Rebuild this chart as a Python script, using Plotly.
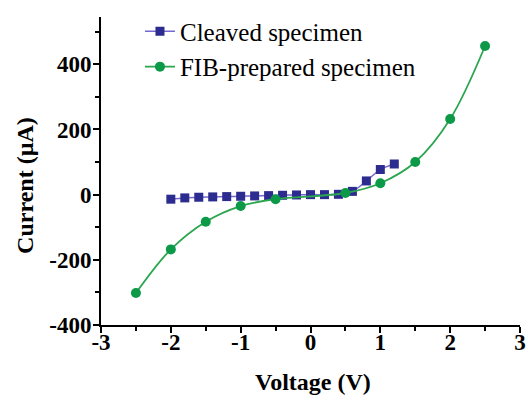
import plotly.graph_objects as go

# I-V data for the two specimens
cleaved_v = [-2.0, -1.8, -1.6, -1.4, -1.2, -1.0, -0.8, -0.6, -0.4, -0.2,
             0.0, 0.2, 0.4, 0.6, 0.8, 1.0, 1.2]
cleaved_i = [-14, -10, -8, -7, -6, -5, -4, -3, -2, -1,
             0, 0, 1, 10, 42, 77, 94]

fib_v = [-2.5, -2.0, -1.5, -1.0, -0.5, 0.5, 1.0, 1.5, 2.0, 2.5]
fib_i = [-302, -168, -83, -35, -14, 5, 35, 100, 232, 456]

x_ticks = [-3, -2, -1, 0, 1, 2, 3]
x_tick_labels = ["-3", "-2", "-1", "0", "1", "2", "3"]
y_ticks = [-400, -200, 0, 200, 400]
y_tick_labels = ["-400", "-200", "0", "200", "400"]

serif = "Liberation Serif"

fig = go.Figure()
fig.add_trace(go.Scatter(
    x=cleaved_v, y=cleaved_i, mode="lines+markers",
    name="Cleaved specimen", legendgroup="a",
    line=dict(color="#7468d0", width=1.5, shape="spline"),
    marker=dict(symbol="square", size=9, color="#2c2b8f"),
))
fig.add_trace(go.Scatter(
    x=fib_v, y=fib_i, mode="lines+markers",
    name="FIB-prepared specimen", legendgroup="b",
    line=dict(color="#2aa64f", width=1.8, shape="spline"),
    marker=dict(symbol="circle", size=10, color="#0d9a48"),
))

axis_common = dict(
    showline=True, linecolor="black", linewidth=2,
    ticks="outside", ticklen=6, tickwidth=2, tickcolor="black",
    showgrid=False, zeroline=False, automargin=False,
    tickfont=dict(family=serif, size=23, color="black", weight="bold"),
)

fig.update_xaxes(
    range=[-3, 3], tickvals=x_ticks, ticktext=x_tick_labels,
    ticklabelstandoff=-11,
    minor=dict(dtick=0.5, ticks="outside", ticklen=4, tickwidth=2, tickcolor="black"),
    **axis_common,
)
fig.update_yaxes(
    range=[-400, 545], tickvals=y_ticks, ticktext=y_tick_labels,
    ticklabelstandoff=-3,
    minor=dict(tick0=0, dtick=100, ticks="outside", ticklen=4, tickwidth=2, tickcolor="black"),
    **axis_common,
)

title_font = dict(family=serif, size=24, color="black")
fig.add_annotation(
    text="<b>Voltage (V)</b>", xref="paper", yref="paper",
    x=(313 - 101) / 419, y=-(382 - 325) / 310,
    xanchor="center", yanchor="middle", showarrow=False, font=title_font,
)
fig.add_annotation(
    text="<b>Current (µA)</b>", xref="paper", yref="paper",
    x=-(101 - 25) / 419, y=(325 - 185) / 310, textangle=-90,
    xanchor="center", yanchor="middle", showarrow=False, font=title_font,
)

fig.update_layout(
    width=528, height=400,
    margin=dict(l=101, r=8, t=15, b=75),
    paper_bgcolor="white", plot_bgcolor="white",
    showlegend=True,
    legend=dict(
        x=0.093, y=1.028, xanchor="left", yanchor="top",
        bgcolor="rgba(0,0,0,0)",
        font=dict(family=serif, size=25, color="black"),
        traceorder="grouped", tracegroupgap=0,
    ),
)

fig.write_html("out.html")
